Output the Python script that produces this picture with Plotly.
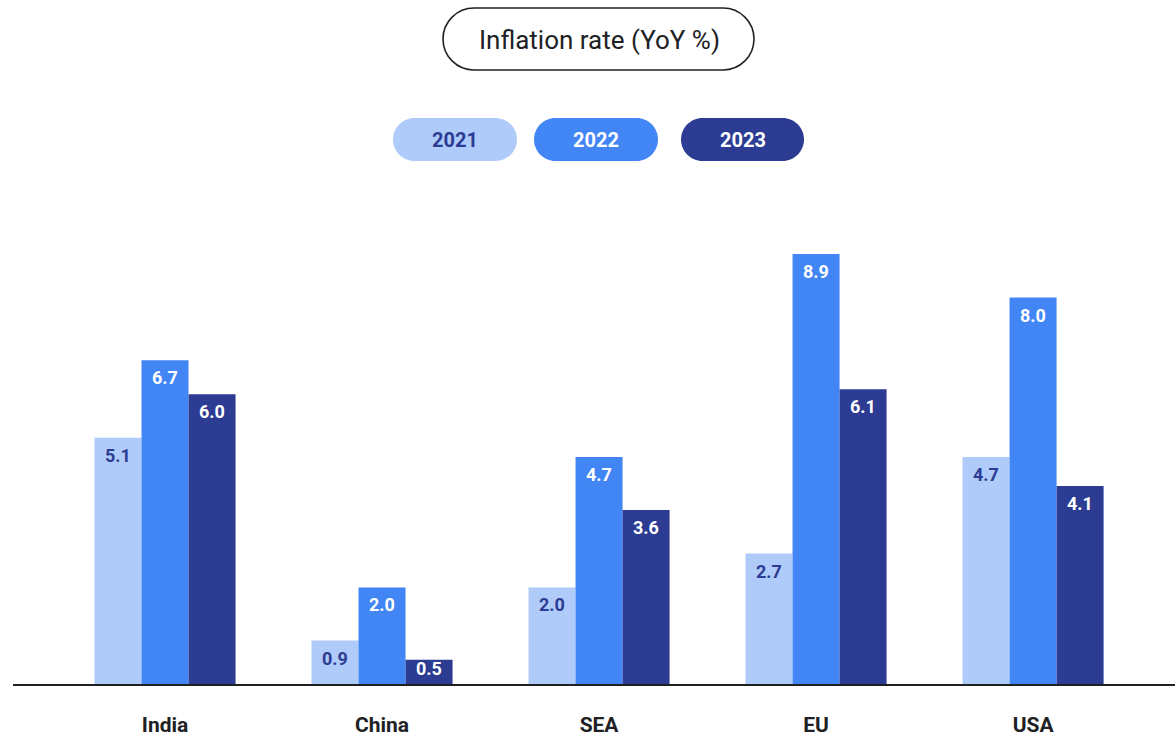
import plotly.graph_objects as go

categories = ["India", "China", "SEA", "EU", "USA"]
years = ["2021", "2022", "2023"]
values_2021 = [5.1, 0.9, 2.0, 2.7, 4.7]
values_2022 = [6.7, 2.0, 4.7, 8.9, 8.0]
values_2023 = [6.0, 0.5, 3.6, 6.1, 4.1]
series = [values_2021, values_2022, values_2023]
bar_colors = ["#aecbfa", "#4285f4", "#2d3c93"]
label_colors = ["#2d3c93", "#ffffff", "#ffffff"]
title_text = "Inflation rate (YoY %)"

W, H = 1175, 736
ML, MR, MT, MB = 13, 0, 200, 52
PW, PH = W - ML - MR, H - MT - MB
YMAX = 10.02
FONT = "Roboto"


def px2paper(x, y):
    return (x - ML) / PW, (H - MB - y) / PH


def pill_path(x0, y0, x1, y1):
    r = (y1 - y0) / 2
    k = 0.5523 * r
    def P(x, y):
        px, py = px2paper(x, y)
        return f"{px:.5f},{py:.5f}"
    d = f"M{P(x0 + r, y0)} L{P(x1 - r, y0)} "
    d += f"C{P(x1 - r + k, y0)} {P(x1, y0 + r - k)} {P(x1, y0 + r)} "
    d += f"C{P(x1, y0 + r + k)} {P(x1 - r + k, y1)} {P(x1 - r, y1)} "
    d += f"L{P(x0 + r, y1)} "
    d += f"C{P(x0 + r - k, y1)} {P(x0, y0 + r + k)} {P(x0, y0 + r)} "
    d += f"C{P(x0, y0 + r - k)} {P(x0 + r - k, y0)} {P(x0 + r, y0)} Z"
    return d


fig = go.Figure()
for yr, vals, col in zip(years, series, bar_colors):
    fig.add_trace(go.Bar(x=categories, y=vals, name=yr, marker=dict(color=col, line=dict(width=0)),
                         showlegend=False, hoverinfo="x+y+name"))

shapes = []
annotations = []

# title pill
shapes.append(dict(type="path", xref="paper", yref="paper", path=pill_path(443, 8, 754, 70),
                   line=dict(color="#202124", width=1.6), fillcolor="rgba(0,0,0,0)"))
tx, ty = px2paper(599, 40)
annotations.append(dict(xref="paper", yref="paper", x=tx, y=ty, text=title_text, showarrow=False,
                        xanchor="center", yanchor="middle",
                        font=dict(family=FONT, size=26, color="#202124")))

# legend pills
pill_boxes = [(393, 118, 517, 161), (534, 118, 658, 161), (681, 118, 804, 161)]
for (x0, y0, x1, y1), yr, col, tcol in zip(pill_boxes, years, bar_colors, label_colors):
    shapes.append(dict(type="path", xref="paper", yref="paper", path=pill_path(x0, y0, x1, y1),
                       line=dict(width=0), fillcolor=col))
    cx, cy = px2paper((x0 + x1) / 2, (y0 + y1) / 2)
    annotations.append(dict(xref="paper", yref="paper", x=cx, y=cy, text=f"<b>{yr}</b>", showarrow=False,
                            xanchor="center", yanchor="middle",
                            font=dict(family=FONT, size=20, color=tcol)))

# value labels inside bars
bar_px = 217 * 0.65 / 3
px_per_unit = PH / YMAX
for i, (vals, tcol) in enumerate(zip(series, label_colors)):
    for cat, v in zip(categories, vals):
        hpx = v * px_per_unit
        ys = -5 if hpx > 32 else 4
        annotations.append(dict(x=cat, y=v, xref="x", yref="y", text=f"<b>{v:.1f}</b>", showarrow=False,
                                xanchor="center", yanchor="top", xshift=(i - 1) * bar_px, yshift=ys,
                                font=dict(family=FONT, size=18, color=tcol)))

fig.update_layout(
    width=W, height=H,
    margin=dict(l=ML, r=MR, t=MT, b=MB, pad=0),
    paper_bgcolor="white", plot_bgcolor="white",
    barmode="group", bargap=0.35, bargroupgap=0,
    shapes=shapes, annotations=annotations,
    font=dict(family=FONT, color="#202124"),
    xaxis=dict(type="category", range=[-0.7005, 4.654], showline=True, linecolor="#202124", linewidth=2,
               ticks="", showgrid=False, zeroline=False, ticklabelstandoff=21, automargin=False,
               tickfont=dict(family=FONT, size=21, color="#202124", weight="bold")),
    yaxis=dict(range=[0, YMAX], visible=False, showgrid=False, zeroline=False, automargin=False),
)

fig.write_html("out.html", config={"displayModeBar": False},
               post_script="document.body.style.margin='0';document.body.style.overflow='hidden';")
